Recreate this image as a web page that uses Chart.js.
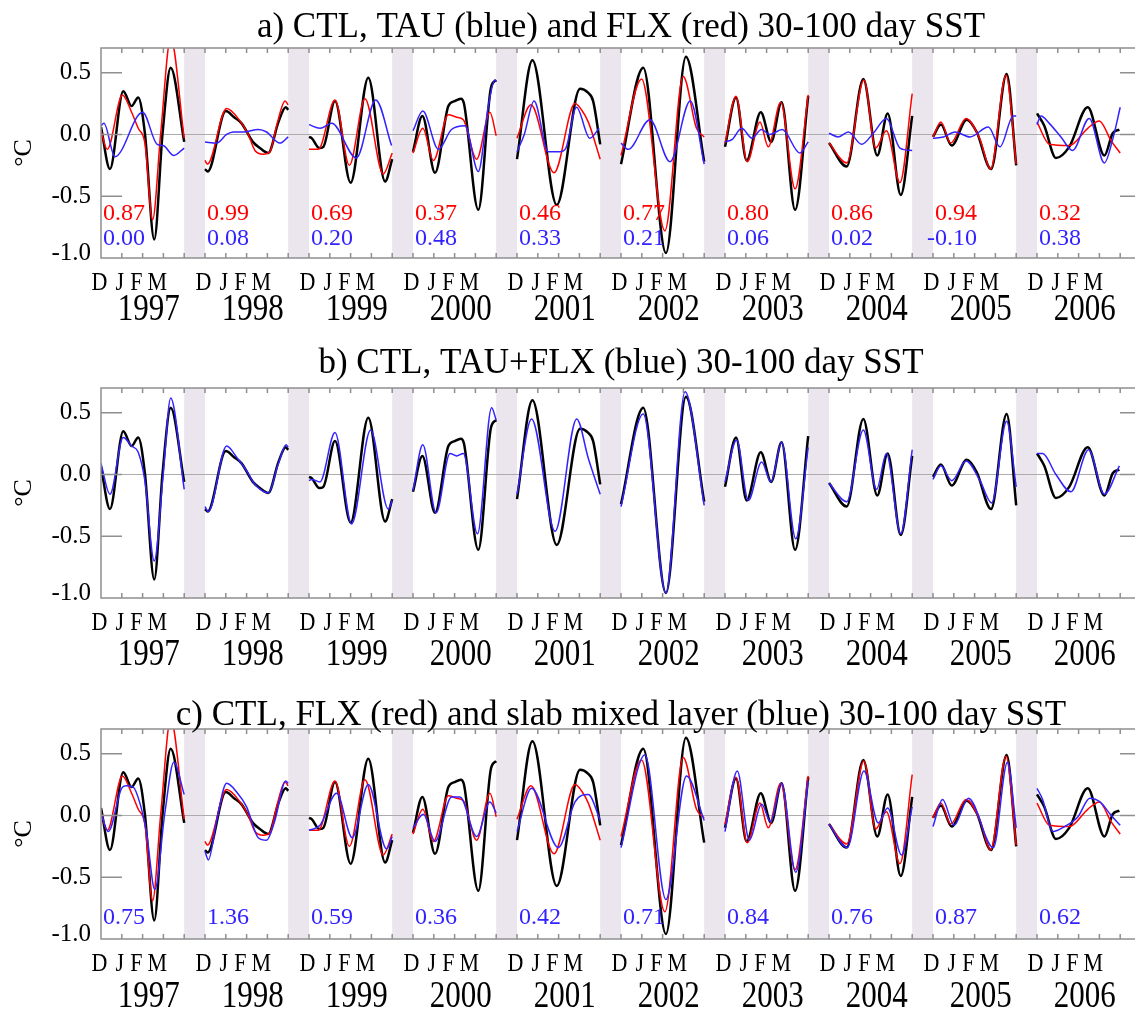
<!DOCTYPE html>
<html>
<head>
<meta charset="utf-8">
<script src="https://cdn.jsdelivr.net/npm/chart.js@4.4.0/dist/chart.umd.min.js"></script>
<style>
html, body { margin: 0; padding: 0; background: #fff; overflow: hidden; width: 1135px; height: 1010px; }
.panel { position: absolute; left: 0; }
</style>
</head>
<body>
<div class="panel" style="top:0px"><canvas id="chartA" width="1160" height="330"></canvas></div>
<div class="panel" style="top:340px"><canvas id="chartB" width="1160" height="330"></canvas></div>
<div class="panel" style="top:681px"><canvas id="chartC" width="1160" height="330"></canvas></div>
<script>
// years shown, months within each Dec-Mar segment, y tick values
var years = ['1997', '1998', '1999', '2000', '2001', '2002', '2003', '2004', '2005', '2006'];
var monthNames = ['D', 'J', 'F', 'M'];
var yTicks = [-1.0, -0.5, 0.0, 0.5];

// each year: [month since 1 Dec, SST anomaly degC]
var ctl = [
    [[0, 0.06], [0.43, -0.28], [1.07, 0.35], [1.47, 0.23], [1.79, 0.30], [2.11, 0.01], [2.56, -0.85], [2.96, 0.01], [3.35, 0.54], [4, -0.06]],
    [[0, -0.28], [0.13, -0.30], [1.0, 0.19], [1.4, 0.14], [1.76, 0.09], [2.3, -0.06], [2.64, -0.11], [3.04, -0.15], [3.53, 0.10], [3.88, 0.22], [4, 0.20]],
    [[0, -0.02], [0.13, -0.03], [0.5, -0.11], [0.69, -0.10], [1.25, 0.27], [2.0, -0.39], [2.85, 0.46], [3.66, -0.38], [4, -0.20]],
    [[0, -0.14], [0.45, 0.15], [1.06, -0.31], [1.7, 0.23], [2.0, 0.27], [2.3, 0.29], [2.45, 0.25], [3.14, -0.61], [3.75, 0.38], [4, 0.44]],
    [[0, -0.20], [0.74, 0.60], [1.91, -0.57], [3.03, 0.37], [3.4, 0.34], [3.66, 0.27], [4, -0.08]],
    [[0, -0.24], [1.07, 0.54], [2.16, -0.96], [3.12, 0.63], [4, -0.22]],
    [[0, -0.10], [0.53, 0.30], [1.04, -0.21], [1.72, 0.18], [2.22, -0.06], [2.72, 0.26], [3.37, -0.61], [4, 0.31]],
    [[0, -0.07], [0.85, -0.26], [1.65, 0.45], [2.32, -0.17], [2.82, 0.17], [3.45, -0.49], [4, 0.15]],
    [[0, -0.02], [0.38, 0.08], [0.9, -0.09], [1.62, 0.12], [2.1, 0.02], [2.79, -0.28], [3.54, 0.49], [4, -0.25]],
    [[0, 0.17], [0.35, 0.07], [0.91, -0.19], [1.55, -0.10], [2.44, 0.22], [3.24, -0.17], [3.64, 0.01], [3.96, 0.04]]
];
var flx = [
    [[0, 0.03], [0.3, -0.12], [1.03, 0.32], [1.47, 0.18], [1.79, 0.05], [2.11, -0.07], [2.48, -0.69], [2.87, 0.01], [3.35, 0.78], [4, -0.03]],
    [[0, -0.21], [0.11, -0.24], [1.04, 0.21], [1.68, 0.11], [2.08, 0.0], [2.4, -0.13], [2.8, -0.16], [3.12, -0.14], [3.47, 0.09], [3.85, 0.27], [4, 0.24]],
    [[0, -0.12], [0.45, -0.12], [1.25, 0.28], [1.94, -0.25], [2.69, 0.29], [3.57, -0.32], [4, -0.15]],
    [[0, -0.15], [0.47, 0.05], [0.98, -0.21], [1.7, 0.16], [2.1, 0.14], [2.42, 0.12], [3.06, -0.20], [3.7, 0.18], [4, -0.01]],
    [[0, -0.03], [0.67, 0.24], [1.78, -0.31], [2.79, 0.25], [3.1, 0.20], [3.43, 0.10], [4, -0.20]],
    [[0, -0.17], [0.99, 0.45], [2.11, -0.78], [2.99, 0.47], [3.63, 0.05], [4, -0.02]],
    [[0, -0.07], [0.53, 0.31], [1.07, -0.22], [1.68, 0.10], [2.08, -0.10], [2.68, 0.26], [3.37, -0.44], [4, 0.32]],
    [[0, -0.07], [0.85, -0.23], [1.68, 0.44], [2.24, -0.11], [2.76, 0.03], [3.41, -0.39], [4, 0.33]],
    [[0, -0.02], [0.38, 0.10], [0.85, -0.07], [1.59, 0.13], [2.26, -0.04], [2.77, -0.28], [3.51, 0.48], [4, -0.24]],
    [[0, 0.10], [0.6, -0.08], [1.55, -0.09], [2.44, 0.05], [3.0, 0.11], [3.56, -0.05], [4, -0.15]]
];
var tau = [
    [[0, 0.07], [0.14, 0.09], [0.67, -0.18], [2.0, 0.18], [2.7, -0.08], [2.99, -0.09], [3.5, -0.17], [4, -0.11]],
    [[0, -0.06], [0.56, -0.07], [1.04, 0.0], [1.36, 0.02], [1.84, 0.02], [2.56, 0.04], [2.96, 0.02], [3.6, -0.07], [4, -0.02]],
    [[0, 0.08], [0.53, 0.05], [1.09, 0.09], [2.28, -0.19], [3.21, 0.28], [3.97, -0.09]],
    [[0, 0.03], [0.47, 0.19], [1.22, -0.12], [1.85, 0.04], [2.5, 0.07], [3.14, -0.30], [3.62, 0.23], [3.94, 0.44], [4, 0.43]],
    [[0, -0.14], [0.35, 0.0], [0.82, 0.27], [1.5, -0.14], [2.06, -0.14], [2.35, -0.11], [2.86, 0.22], [3.5, -0.03], [3.95, 0.05]],
    [[0, -0.07], [0.35, -0.12], [1.39, 0.12], [2.36, -0.22], [3.33, 0.27], [4, -0.24]],
    [[0, -0.06], [0.35, -0.04], [0.8, 0.05], [1.3, -0.03], [1.75, 0.04], [2.15, 0.0], [2.75, 0.04], [3.6, -0.15], [4, -0.06]],
    [[0, 0.01], [0.45, -0.02], [0.93, 0.02], [1.57, -0.08], [2.13, 0.01], [2.76, 0.13], [3.41, -0.11], [4, -0.13]],
    [[0, -0.03], [0.5, -0.02], [1.06, 0.02], [1.78, -0.02], [2.66, 0.06], [3.22, -0.10], [3.86, 0.15], [4, 0.15]],
    [[0, 0.08], [0.19, 0.15], [0.59, 0.09], [1.15, -0.02], [1.71, -0.13], [2.51, 0.13], [3.24, -0.23], [3.64, -0.04], [4, 0.22]]
];
var tauFlx = [
    [[0, 0.09], [0.43, -0.16], [1.07, 0.30], [1.47, 0.23], [1.79, 0.18], [2.11, -0.05], [2.56, -0.70], [2.99, 0.0], [3.35, 0.62], [4, -0.12]],
    [[0, -0.26], [0.16, -0.30], [1.04, 0.23], [1.52, 0.14], [2.0, 0.03], [2.4, -0.08], [3.04, -0.15], [3.53, 0.09], [3.9, 0.24], [4, 0.22]],
    [[0, -0.05], [0.13, -0.04], [0.53, -0.06], [1.25, 0.34], [2.05, -0.40], [2.96, 0.36], [3.81, -0.28], [4, -0.21]],
    [[0, -0.13], [0.47, 0.24], [1.11, -0.31], [1.78, 0.17], [2.1, 0.15], [2.42, 0.17], [3.1, -0.48], [3.78, 0.54], [4, 0.44]],
    [[0, -0.16], [0.7, 0.45], [1.83, -0.46], [2.87, 0.45], [3.43, 0.13], [4, -0.16]],
    [[0, -0.26], [1.07, 0.49], [2.16, -0.96], [3.08, 0.67], [4, -0.25]],
    [[0, -0.06], [0.56, 0.28], [1.12, -0.21], [1.76, 0.10], [2.21, -0.06], [2.72, 0.26], [3.4, -0.52], [4, 0.22]],
    [[0, -0.07], [0.85, -0.22], [1.65, 0.36], [2.29, -0.12], [2.76, 0.17], [3.45, -0.48], [4, 0.20]],
    [[0, -0.04], [0.38, 0.07], [0.9, -0.05], [1.59, 0.11], [2.26, -0.05], [2.82, -0.23], [3.54, 0.43], [4, -0.10]],
    [[0, 0.17], [0.27, 0.17], [0.91, 0.0], [1.63, -0.14], [2.48, 0.20], [3.24, -0.16], [3.96, 0.07]]
];
var slab = [
    [[0, 0.02], [0.35, -0.13], [0.99, 0.22], [1.2, 0.24], [1.55, 0.23], [1.87, 0.10], [2.19, -0.14], [2.59, -0.60], [3.07, 0.02], [3.5, 0.43], [4, 0.17]],
    [[0, -0.29], [0.16, -0.36], [0.56, -0.04], [1.04, 0.26], [1.52, 0.19], [2.0, 0.07], [2.56, -0.18], [2.96, -0.20], [3.36, -0.04], [3.88, 0.28], [4, 0.26]],
    [[0, -0.12], [0.53, -0.08], [1.33, 0.18], [2.08, -0.18], [2.85, 0.25], [3.73, -0.27], [4, -0.17]],
    [[0, -0.10], [0.5, 0.01], [1.06, -0.21], [1.86, 0.15], [2.26, 0.15], [3.06, -0.17], [3.7, 0.11], [4, 0.02]],
    [[0, -0.13], [0.7, 0.22], [1.99, -0.26], [2.79, 0.11], [3.43, 0.17], [4, -0.04]],
    [[0, -0.26], [1.15, 0.49], [2.16, -0.68], [3.15, 0.32], [4, -0.04]],
    [[0, -0.13], [0.59, 0.36], [1.17, -0.20], [1.76, 0.09], [2.19, -0.05], [2.72, 0.26], [3.4, -0.46], [4, 0.28]],
    [[0, -0.07], [0.88, -0.26], [1.68, 0.36], [2.37, -0.06], [2.82, 0.06], [3.49, -0.32], [4, 0.07]],
    [[0, -0.09], [0.46, 0.13], [1.01, -0.08], [1.7, 0.14], [2.9, -0.26], [3.58, 0.43], [4, -0.10]],
    [[0, 0.22], [0.27, 0.13], [0.76, -0.13], [1.33, -0.09], [1.97, -0.01], [2.54, 0.14], [3.03, 0.11], [3.52, 0.01], [4, -0.08]]
];

// correlations printed in each year box
var corrFlx = ['0.87', '0.99', '0.69', '0.37', '0.46', '0.77', '0.80', '0.86', '0.94', '0.32'];
var corrTau = ['0.00', '0.08', '0.20', '0.48', '0.33', '0.21', '0.06', '0.02', '-0.10', '0.38'];
var corrSlab = ['0.75', '1.36', '0.59', '0.36', '0.42', '0.71', '0.84', '0.76', '0.87', '0.62'];

var RED = '#ff0000';
var BLUE = '#3222ff';
var BLACK = '#000000';
var SERIF = '"Liberation Serif", "Times New Roman", serif';
// small nudges so letters sit like the original (D J FM)
var monthShift = [-0.07, -0.1, -0.3, -0.3];

Chart.defaults.color = '#000';
Chart.defaults.font.family = SERIF;

// turn the per-year lists into one x/y list, with a null to break between years
function toPoints(series) {
    var pts = [];
    series.forEach(function(yr, k) {
        yr.forEach(function(p) {
            pts.push({x: k * 5 + p[0], y: p[1]});
        });
        pts.push({x: k * 5 + 4.5, y: null});
    });
    return pts;
}

function tallText(ctx, txt, px, py, stretch) {
    ctx.save();
    ctx.translate(px, py);
    ctx.scale(1, stretch);
    ctx.fillText(txt, 0, 0);
    ctx.restore();
}

// gray gaps, frame, inner ticks, title, month/year labels and correlation numbers
var decorPlugin = {
    id: 'decor',
    beforeDatasetsDraw: function(chart) {
        var ctx = chart.ctx, x = chart.scales.x, y = chart.scales.y, a = chart.chartArea;
        ctx.save();
        ctx.fillStyle = '#ebe5ee';
        for (var k = 0; k < years.length - 1; k++) {
            var x0 = x.getPixelForValue(k * 5 + 4), x1 = x.getPixelForValue(k * 5 + 5);
            ctx.fillRect(x0, a.top, x1 - x0, a.bottom - a.top);
        }
        ctx.strokeStyle = '#acacac';
        ctx.lineWidth = 1;
        var y0 = Math.round(y.getPixelForValue(0)) + 0.5;
        ctx.beginPath();
        ctx.moveTo(a.left, y0);
        ctx.lineTo(a.right, y0);
        ctx.stroke();
        ctx.restore();
    },
    afterDatasetsDraw: function(chart) {
        var ctx = chart.ctx, x = chart.scales.x, y = chart.scales.y, a = chart.chartArea;
        var opts = chart.options.plugins.decor;
        ctx.save();
        ctx.strokeStyle = '#8f8f8f';
        ctx.lineWidth = 1.5;
        ctx.strokeRect(a.left, a.top, a.right - a.left, a.bottom - a.top);
        ctx.beginPath();
        for (var m = 1; m < 50; m++) {
            var px = x.getPixelForValue(m);
            ctx.moveTo(px, a.top);
            ctx.lineTo(px, a.top + 5);
            ctx.moveTo(px, a.bottom);
            ctx.lineTo(px, a.bottom - 5);
        }
        [0.5, 0, -0.5].forEach(function(v) {
            var py = y.getPixelForValue(v);
            ctx.moveTo(a.left, py);
            ctx.lineTo(a.left + 21, py);
            ctx.moveTo(a.right, py);
            ctx.lineTo(a.right - 21, py);
        });
        ctx.stroke();

        ctx.fillStyle = '#000';
        // panel title, centred over the plot box
        ctx.font = '35px ' + SERIF;
        ctx.textAlign = 'center';
        ctx.textBaseline = 'alphabetic';
        ctx.fillText(opts.title, (a.left + a.right) / 2, opts.titleBase);

        // month letters and year labels
        ctx.textBaseline = 'middle';
        ctx.font = '22px ' + SERIF;
        years.forEach(function(yr, k) {
            monthNames.forEach(function(mn, i) {
                tallText(ctx, mn, x.getPixelForValue(k * 5 + i + monthShift[i]), a.bottom + 25, 1.15);
            });
        });
        ctx.font = '31px ' + SERIF;
        years.forEach(function(yr, k) {
            tallText(ctx, yr, x.getPixelForValue(k * 5 + 2.3), a.bottom + opts.yearOffset, 1.22);
        });

        // correlation numbers
        ctx.font = '24px ' + SERIF;
        ctx.textAlign = 'right';
        opts.stats.forEach(function(s) {
            ctx.fillStyle = s.color;
            s.values.forEach(function(t, k) {
                ctx.fillText(t, x.getPixelForValue(k * 5 + 2.12), y.getPixelForValue(s.at));
            });
        });
        ctx.restore();
    }
};

function makePanel(id, title, titleBase, yearOffset, lines, stats) {
    var datasets = lines.map(function(l) {
        return {
            data: toPoints(l.series),
            borderColor: l.color,
            borderWidth: l.width,
            pointRadius: 0,
            cubicInterpolationMode: 'monotone',
            spanGaps: false
        };
    });
    var ctx = document.getElementById(id).getContext('2d');
    return new Chart(ctx, {
        type: 'line',
        data: {datasets: datasets},
        options: {
            responsive: false,
            animation: false,
            events: [],
            layout: {padding: {left: 0, right: 19, top: 48, bottom: 0}},
            plugins: {
                legend: {display: false},
                tooltip: {enabled: false},
                decor: {title: title, titleBase: titleBase, yearOffset: yearOffset, stats: stats}
            },
            scales: {
                x: {
                    type: 'linear',
                    min: 0,
                    max: 50,
                    grid: {display: false, drawTicks: false},
                    border: {display: false},
                    ticks: {display: false},
                    afterFit: function(scale) { scale.height = 72; }
                },
                y: {
                    min: -1.0,
                    max: 0.7,
                    grid: {display: false, drawTicks: false},
                    border: {display: false},
                    afterBuildTicks: function(scale) {
                        scale.ticks = yTicks.map(function(v) { return {value: v}; });
                    },
                    afterFit: function(scale) { scale.width = 101; },
                    title: {display: true, text: '°C', font: {size: 26}, padding: {top: 9, bottom: 0}},
                    ticks: {
                        padding: 10,
                        font: {size: 25, lineHeight: 0.4},
                        callback: function(v) {
                            // bottom label sits a little above the axis line
                            return v === -1 ? ['-1.0', ''] : v.toFixed(1);
                        }
                    }
                }
            }
        },
        plugins: [decorPlugin]
    });
}

makePanel('chartA', 'a) CTL, TAU (blue) and FLX (red) 30-100 day SST', 37, 52,
    [{series: tau, color: BLUE, width: 1.5}, {series: flx, color: RED, width: 1.5}, {series: ctl, color: BLACK, width: 2.5}],
    [{values: corrFlx, color: RED, at: -0.64}, {values: corrTau, color: BLUE, at: -0.84}]);

makePanel('chartB', 'b) CTL, TAU+FLX (blue) 30-100 day SST', 33, 57,
    [{series: tauFlx, color: BLUE, width: 1.5}, {series: ctl, color: BLACK, width: 2.5}],
    []);

makePanel('chartC', 'c) CTL, FLX (red) and slab mixed layer (blue) 30-100 day SST', 44, 58,
    [{series: slab, color: BLUE, width: 1.5}, {series: flx, color: RED, width: 1.5}, {series: ctl, color: BLACK, width: 2.5}],
    [{values: corrSlab, color: BLUE, at: -0.83}]);
</script>
</body>
</html>
